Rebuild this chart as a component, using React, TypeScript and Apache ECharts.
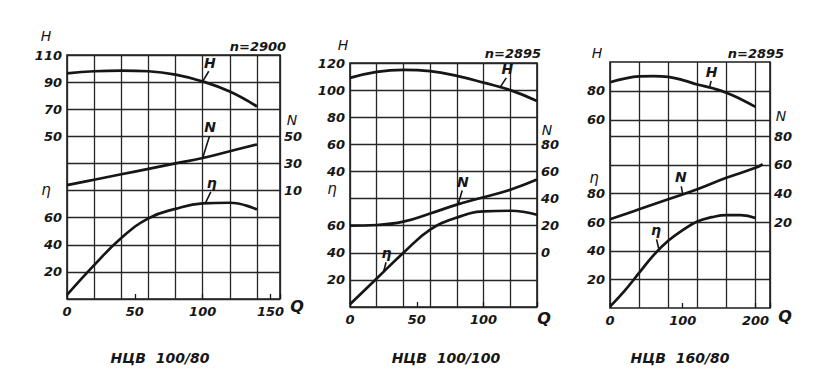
import React, { useEffect, useRef } from "react";
import * as echarts from "echarts";

// ---------- data ----------
// Panel 1: НЦВ 100/80, n = 2900
const Q1 = [0, 20, 40, 60, 80, 100, 120, 140];
const H1 = [96.5, 98, 98.5, 98, 95.5, 90.5, 83, 72];
const N1 = [14, 18, 22, 26, 30, 34, 39, 44];
const ETA1 = [3, 25, 45, 59.5, 66.5, 70.5, 71, 66];

// Panel 2: НЦВ 100/100, n = 2895
const Q2 = [0, 20, 40, 60, 80, 100, 120, 140];
const H2 = [109, 113.5, 115, 114, 110.5, 105.5, 100, 92];
const N2 = [20, 20.5, 23, 29, 35.5, 41, 46.5, 54];
const ETA2 = [2, 21, 40, 57, 66, 70.5, 71, 68];

// Panel 3: НЦВ 160/80, n = 2895
const Q3 = [0, 20, 40, 60, 80, 100, 120, 140, 160, 180, 200];
const H3 = [86, 88.5, 90, 90.3, 89.7, 87.5, 84.5, 82, 78.8, 74.3, 69];
const ETA3 = [1, 12, 24.5, 37, 47, 54.5, 60.5, 63.5, 65, 65, 63];
const Q3N = [0, 40, 80, 120, 160, 200, 210];
const N3 = [22, 29, 36, 43, 51, 58, 60.5];

// tick labels
const QLAB1 = [0, 50, 100, 150];
const QLAB2 = [0, 50, 100];
const QLAB3 = [0, 100, 200];
const HLAB1 = [50, 70, 90, 110];
const HLAB2 = [40, 60, 80, 100, 120];
const HLAB3 = [60, 80];
const ELAB1 = [20, 40, 60];
const ELAB2 = [20, 40, 60];
const ELAB3 = [20, 40, 60, 80];
const NLAB1 = [10, 30, 50];
const NLAB2 = [0, 20, 40, 60, 80];
const NLAB3 = [20, 40, 60, 80];

const TITLES = ["НЦВ  100/80", "НЦВ  100/100", "НЦВ  160/80"];
const SPEEDS = ["n=2900", "n=2895", "n=2895"];

const INK = "#161616";
const FONT = "'DejaVu Sans', 'Liberation Sans', sans-serif";

const pairs = (xs: number[], ys: number[]) => xs.map((x, i) => [x, ys[i]]);

const labelFmt = (list: number[]) => (v: number) =>
  list.some((l) => Math.abs(l - v) < 1e-6) ? String(v) : "";

type Panel = {
  grid: { left: number; top: number; width: number; height: number };
  qMax: number;
  qGrid: number;
  qLab: number[];
  qLabInterval: number;
  h: { min: number; max: number; interval: number; labels: number[]; split: boolean };
  e: { min: number; max: number; labels: number[] };
  n: { min: number; max: number; labels: number[] };
  H: number[][];
  E: number[][];
  N: number[][];
  ptrH: number[][];
  ptrE: number[][];
  ptrN: number[][];
  markE: number[];
  markH: number[];
};

const panels: Panel[] = [
  {
    grid: { left: 67, top: 55, width: 213, height: 244 },
    qMax: 157,
    qGrid: 20,
    qLab: QLAB1,
    qLabInterval: 50,
    h: { min: -70, max: 110, interval: 20, labels: HLAB1, split: true },
    e: { min: 0, max: 180, labels: ELAB1 },
    n: { min: -70, max: 110, labels: NLAB1 },
    H: pairs(Q1, H1),
    E: pairs(Q1, ETA1),
    N: pairs(Q1, N1),
    ptrH: [[100, 90.5], [104.5, 98]],
    ptrE: [[102, 70.8], [106, 79]],
    ptrN: [[100, 34], [105, 50]],
    markE: [],
    markH: [],
  },
  {
    grid: { left: 350, top: 63, width: 187, height: 244 },
    qMax: 140,
    qGrid: 20,
    qLab: QLAB2,
    qLabInterval: 50,
    h: { min: -60, max: 120, interval: 20, labels: HLAB2, split: true },
    e: { min: 0, max: 180, labels: ELAB2 },
    n: { min: -40, max: 140, labels: NLAB2 },
    H: pairs(Q2, H2),
    E: pairs(Q2, ETA2),
    N: pairs(Q2, N2),
    ptrH: [[112, 101.5], [117, 109]],
    ptrE: [[25, 25.5], [27, 33]],
    ptrN: [[81, 36], [84, 46]],
    markE: [],
    markH: [],
  },
  {
    grid: { left: 610, top: 62, width: 160, height: 246 },
    qMax: 220,
    qGrid: 40,
    qLab: QLAB3,
    qLabInterval: 100,
    h: { min: -70, max: 100, interval: 10, labels: HLAB3, split: false },
    e: { min: 0, max: 172, labels: ELAB3 },
    n: { min: -40, max: 132, labels: NLAB3 },
    H: pairs(Q3, H3),
    E: pairs(Q3, ETA3),
    N: pairs(Q3N, N3),
    ptrH: [[137, 82.5], [139, 87]],
    ptrE: [[67, 41.5], [64, 48]],
    ptrN: [[100, 39.5], [98, 45]],
    markE: [20, 40, 60, 80, 100, 120],
    markH: [60, 80],
  },
];

const tickLabel = {
  fontStyle: "italic" as const,
  fontWeight: "bold" as const,
  fontSize: 13,
  fontFamily: FONT,
  color: INK,
};

const gridLine = { color: "#262626", width: 1.3, type: "solid" as const };

function buildOption() {
  const grid: any[] = [];
  const xAxis: any[] = [];
  const yAxis: any[] = [];
  const series: any[] = [];

  panels.forEach((p, i) => {
    grid.push({
      ...p.grid,
      show: true,
      borderColor: "#1c1c1c",
      borderWidth: 1.6,
      backgroundColor: "transparent",
    });
    // grid-line x axis
    xAxis.push({
      type: "value",
      gridIndex: i,
      position: "bottom",
      min: 0,
      max: p.qMax,
      interval: p.qGrid,
      axisLine: { show: false },
      axisTick: { show: false },
      axisLabel: { show: false },
      splitLine: { show: true, lineStyle: gridLine },
    });
    // label x axis
    xAxis.push({
      type: "value",
      gridIndex: i,
      position: "bottom",
      offset: 0,
      min: 0,
      max: p.qMax,
      interval: p.qLabInterval,
      axisLine: { show: false },
      axisTick: { show: true, inside: true, length: 5, lineStyle: { color: INK, width: 1.3 } },
      splitLine: { show: false },
      axisLabel: { ...tickLabel, margin: 6, formatter: labelFmt(p.qLab), showMaxLabel: true },
    });
    // H axis (left)
    yAxis.push({
      type: "value",
      gridIndex: i,
      position: "left",
      min: p.h.min,
      max: p.h.max,
      interval: p.h.interval,
      axisLine: { show: false },
      axisTick: { show: false },
      splitLine: { show: p.h.split, lineStyle: gridLine },
      axisLabel: { ...tickLabel, margin: 5, formatter: labelFmt(p.h.labels) },
    });
    // eta axis (left)
    yAxis.push({
      type: "value",
      gridIndex: i,
      position: "left",
      offset: 0,
      min: p.e.min,
      max: p.e.max,
      interval: 20,
      axisLine: { show: false },
      axisTick: { show: false },
      splitLine: { show: false },
      axisLabel: { ...tickLabel, margin: 5, formatter: labelFmt(p.e.labels) },
    });
    // N axis (right)
    yAxis.push({
      type: "value",
      gridIndex: i,
      position: "right",
      min: p.n.min,
      max: p.n.max,
      interval: 20,
      axisLine: { show: false },
      axisTick: { show: false },
      splitLine: { show: false },
      axisLabel: { ...tickLabel, margin: 4, formatter: labelFmt(p.n.labels) },
    });

    const pointer = (pts: number[][], text: string) => [
      {
        coord: pts[0],
        lineStyle: { color: INK, width: 1.6, type: "solid" },
        label: {
          show: true,
          position: "end",
          distance: 2,
          formatter: text,
          fontStyle: "italic",
          fontWeight: "bold",
          fontSize: 14,
          fontFamily: FONT,
          color: INK,
        },
      },
      { coord: pts[1] },
    ];
    const hline = (v: number) => ({
      yAxis: v,
      lineStyle: gridLine,
      label: { show: false },
    });

    const curve = (name: string, data: number[][], yIdx: number, ptr: number[][], marks: number[]) => ({
      type: "line",
      name,
      xAxisIndex: 2 * i,
      yAxisIndex: yIdx,
      data,
      smooth: 0.45,
      symbol: "none",
      lineStyle: { color: INK, width: 2.7 },
      z: 5,
      markLine: {
        silent: true,
        symbol: ["none", "none"],
        animation: false,
        data: [pointer(ptr, name), ...marks.map(hline)],
      },
    });

    series.push(curve("H", p.H, 3 * i, p.ptrH, p.markH));
    series.push(curve("η", p.E, 3 * i + 1, p.ptrE, p.markE));
    series.push(curve("N", p.N, 3 * i + 2, p.ptrN, []));
  });

  const txt = (text: string, x: number, y: number, size: number, bold = true) => ({
    type: "text",
    x,
    y,
    style: {
      text,
      fill: INK,
      font: `italic ${bold ? "bold " : ""}${size}px ${FONT}`,
      textAlign: "center",
      textVerticalAlign: "middle",
    },
  });

  const graphic = [
    // panel 1
    txt("H", 46, 36, 14, false),
    txt(SPEEDS[0], 258, 46, 13),
    txt("η", 46, 190, 15, false),
    txt("N", 292, 120, 14, false),
    txt("Q", 297, 306, 16),
    txt(TITLES[0], 160, 358, 14),
    // panel 2
    txt("H", 343, 45, 14, false),
    txt(SPEEDS[1], 513, 53, 13),
    txt("η", 332, 189, 15, false),
    txt("N", 547, 130, 14, false),
    txt("Q", 544, 318, 16),
    txt(TITLES[1], 446, 358, 14),
    // panel 3
    txt("H", 597, 53, 14, false),
    txt(SPEEDS[2], 756, 53, 13),
    txt("η", 594, 178, 15, false),
    txt("N", 781, 116, 14, false),
    txt("Q", 785, 316, 16),
    txt(TITLES[2], 680, 358, 14),
  ];

  return {
    animation: false,
    backgroundColor: "#ffffff",
    grid,
    xAxis,
    yAxis,
    series,
    graphic,
  };
}

export default function App() {
  const ref = useRef<HTMLDivElement>(null);
  useEffect(() => {
    if (!ref.current) return;
    const chart = echarts.init(ref.current, undefined, { renderer: "svg" });
    chart.setOption(buildOption() as any);
    return () => chart.dispose();
  }, []);
  return (
    <div
      ref={ref}
      style={{ position: "absolute", left: 0, top: 0, width: 824, height: 381, background: "#fff" }}
    />
  );
}
